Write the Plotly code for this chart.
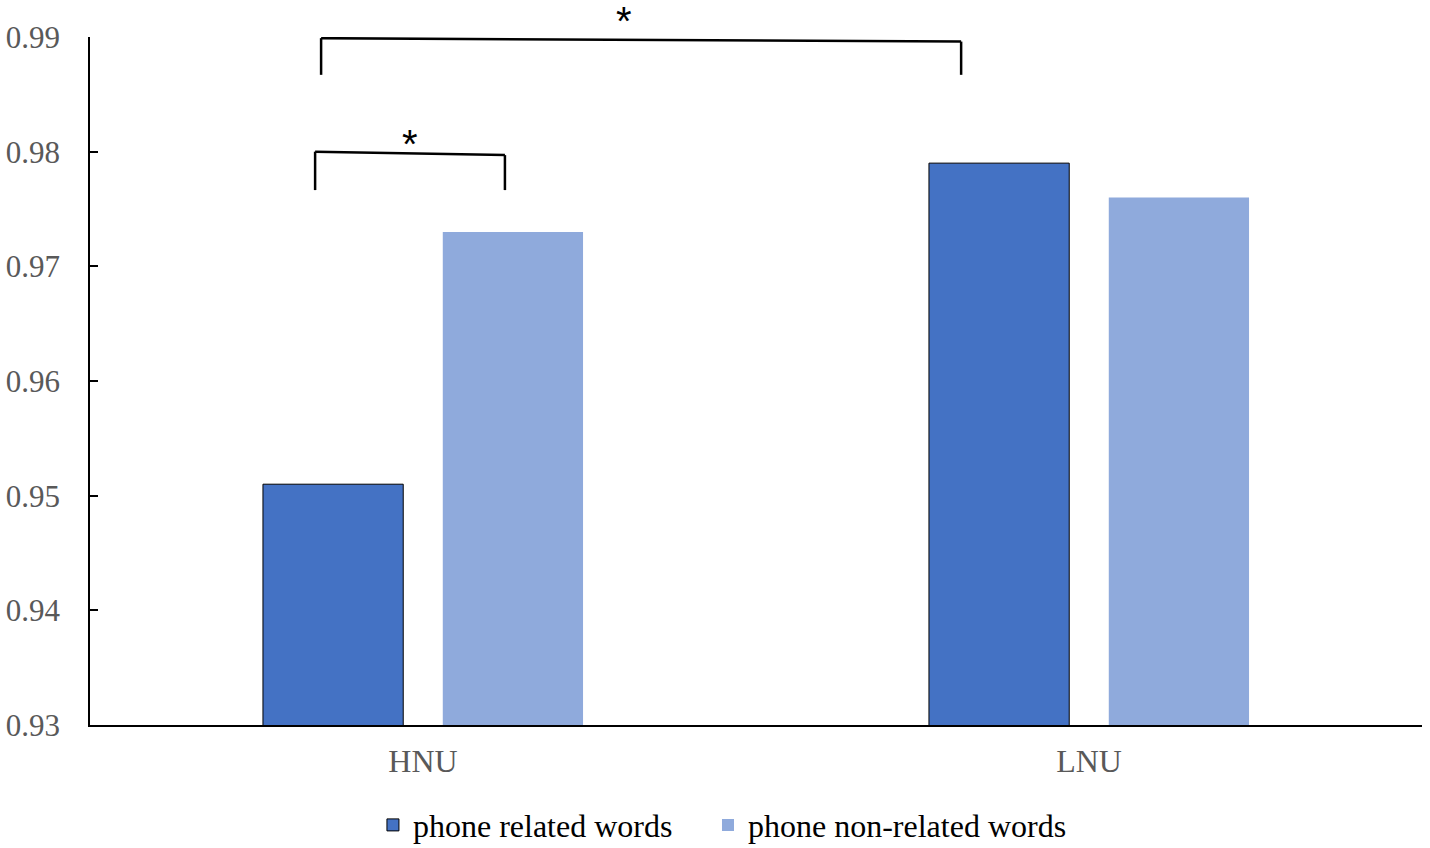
import plotly.graph_objects as go

groups = ["HNU", "LNU"]
related = [0.951, 0.979]
non_related = [0.973, 0.976]
y_ticks = [0.93, 0.94, 0.95, 0.96, 0.97, 0.98, 0.99]

# significance brackets: (x_left, x_right, y_left_top, y_right_top, y_bottom, star_x, star_y_paper)
brackets = [
    (-0.153, 0.808, 0.9899, 0.9896, 0.9867, 0.302, 1.058),
    (-0.162, 0.123, 0.9800, 0.9797, 0.97665, -0.02, 0.880),
]

SERIF = "Liberation Serif, Times New Roman, serif"

fig = go.Figure()
fig.add_trace(
    go.Bar(
        x=groups,
        y=related,
        name="phone related words",
        marker=dict(color="#4472C4", line=dict(color="#000000", width=1)),
        legend="legend",
    )
)
fig.add_trace(
    go.Bar(
        x=groups,
        y=non_related,
        name="phone non-related words",
        marker=dict(color="#8FAADC", line=dict(width=0)),
        legend="legend2",
    )
)

for xl, xr, yl, yr, yb, sx, sy in brackets:
    for x0, y0, x1, y1 in [(xl, yb, xl, yl), (xl, yl, xr, yr), (xr, yr, xr, yb)]:
        fig.add_shape(
            type="line", xref="x", yref="y",
            x0=x0, y0=y0, x1=x1, y1=y1,
            line=dict(color="#000000", width=2.5),
        )
    fig.add_annotation(
        x=sx, y=sy, xref="x", yref="paper", text="*", showarrow=False,
        font=dict(family="Liberation Sans, Arial", size=40, color="#000000"),
    )

legend_style = dict(
    orientation="h", xref="container", yref="container",
    xanchor="left", y=0.027, yanchor="middle",
    font=dict(family=SERIF, size=32, color="#000000"),
    bgcolor="rgba(0,0,0,0)",
)

fig.update_layout(
    width=1430,
    height=848,
    plot_bgcolor="white",
    paper_bgcolor="white",
    margin=dict(l=90, r=8, t=37, b=123),
    barmode="group",
    bargap=0.46,
    bargroupgap=0.22,
    showlegend=True,
    legend=dict(x=0.2608, **legend_style),
    legend2=dict(x=0.4951, **legend_style),
    xaxis=dict(
        showline=True, linecolor="#000000", linewidth=1.5,
        ticks="", ticklabelstandoff=7, automargin=False,
        tickfont=dict(family=SERIF, size=32, color="#595959"),
        showgrid=False,
    ),
    yaxis=dict(
        range=[0.93, 0.99], tickvals=y_ticks, tickformat=".2f",
        showline=True, linecolor="#000000", linewidth=1.5,
        ticks="inside", ticklen=8, tickcolor="#000000", tickwidth=1.5,
        ticklabelstandoff=22, automargin=False,
        tickfont=dict(family=SERIF, size=31, color="#595959"),
        showgrid=False, zeroline=False,
    ),
)

# drop the default body margin so the 1430x848 figure fills the page exactly
fig.write_html(
    "out.html",
    config={"displayModeBar": False},
    post_script="document.body.style.margin='0';document.body.style.overflow='hidden';",
)
